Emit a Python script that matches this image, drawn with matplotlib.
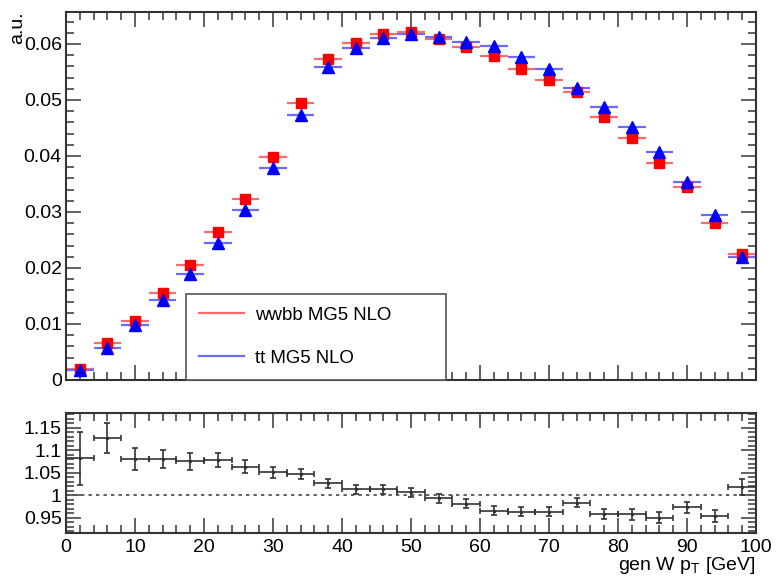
import matplotlib
matplotlib.use("Agg")
import matplotlib.pyplot as plt
from matplotlib.lines import Line2D
from matplotlib.ticker import MultipleLocator, FixedLocator, FuncFormatter

plt.rcParams['font.family'] = ['Liberation Sans', 'DejaVu Sans']
plt.rcParams['mathtext.default'] = 'regular'

# gen W pT bins (4 GeV wide)
bin_centers = [2, 6, 10, 14, 18, 22, 26, 30, 34, 38, 42, 46, 50,
               54, 58, 62, 66, 70, 74, 78, 82, 86, 90, 94, 98]
bin_half_width = 2

# normalised distributions
wwbb = [0.0019, 0.0066, 0.0106, 0.0155, 0.0205, 0.0264, 0.0324, 0.0399,
        0.0495, 0.0574, 0.0602, 0.0617, 0.0622, 0.0609, 0.0595, 0.0579,
        0.0555, 0.0536, 0.0514, 0.0470, 0.0433, 0.0387, 0.0345, 0.0281,
        0.0225]
tt = [0.0018, 0.0058, 0.0098, 0.0143, 0.0190, 0.0244, 0.0304, 0.0378,
      0.0473, 0.0559, 0.0593, 0.0610, 0.0617, 0.0613, 0.0604, 0.0596,
      0.0576, 0.0556, 0.0521, 0.0488, 0.0452, 0.0407, 0.0354, 0.0295,
      0.0220]

# ratio wwbb / tt
ratio = [1.082, 1.128, 1.081, 1.080, 1.076, 1.078, 1.064, 1.051, 1.047,
         1.027, 1.014, 1.013, 1.007, 0.993, 0.981, 0.966, 0.964, 0.964,
         0.983, 0.958, 0.958, 0.950, 0.973, 0.954, 1.019]
ratio_err = [0.058, 0.033, 0.024, 0.020, 0.019, 0.016, 0.015, 0.012, 0.011,
             0.010, 0.010, 0.009, 0.010, 0.009, 0.010, 0.010, 0.010, 0.011,
             0.010, 0.011, 0.012, 0.012, 0.012, 0.013, 0.018]

W, H = 779, 577
fig = plt.figure(figsize=(W / 100, H / 100), dpi=100)

ax = fig.add_axes([66 / W, 1 - 380 / H, 690 / W, 368.5 / H])
axr = fig.add_axes([66 / W, 1 - 533.3 / H, 690 / W, 120.6 / H])

frame_col = '#333333'
tick_col = '#555555'


def root_style(a):
    for s in a.spines.values():
        s.set_color(frame_col)
        s.set_linewidth(1.5)
    a.tick_params(which='both', direction='in', top=True, right=True,
                  colors=tick_col, labelcolor='black', labelsize=14, width=1.3)
    a.tick_params(which='major', length=11)
    a.tick_params(which='minor', length=5.5)
    a.set_xlim(0, 100)
    a.xaxis.set_major_locator(MultipleLocator(10))
    a.xaxis.set_minor_locator(MultipleLocator(2))


# upper panel
root_style(ax)
ax.errorbar(bin_centers, wwbb, xerr=bin_half_width, fmt='none',
            ecolor=(1, 0.42, 0.42), elinewidth=1.6, zorder=2)
ax.errorbar(bin_centers, tt, xerr=bin_half_width, fmt='none',
            ecolor=(0.42, 0.42, 1), elinewidth=1.6, zorder=2)
ax.plot(bin_centers, wwbb, 's', color='red', ms=7.5, mec='red', zorder=3)
ax.plot(bin_centers, tt, '^', color='blue', ms=8, mec='blue', zorder=4)
ax.set_ylim(0, 0.0658)
ax.yaxis.set_major_locator(MultipleLocator(0.01))
ax.yaxis.set_minor_locator(MultipleLocator(0.002))
ax.yaxis.set_major_formatter(FuncFormatter(lambda v, p: '%g' % round(v, 4)))
ax.tick_params(axis='x', labelbottom=False)
ax.tick_params(axis='y', pad=3)

handles = [Line2D([], [], color=(1, 0.42, 0.42), lw=1.6),
           Line2D([], [], color=(0.42, 0.42, 1), lw=1.6)]
leg = ax.legend(handles, ['wwbb MG5 NLO', 'tt MG5 NLO'],
                loc='lower left', bbox_to_anchor=(0.174, 0.0, 0.377, 0.25),
                mode='expand', borderaxespad=0, fancybox=False, shadow=False,
                framealpha=1, edgecolor='#555555', fontsize=13.4,
                handlelength=2.4, handletextpad=0.6, labelspacing=1.4,
                borderpad=0.7)
leg.get_frame().set_linewidth(1.2)

# ratio panel
root_style(axr)
axr.axhline(1, color='#444444', lw=1.2, ls=(0, (2, 2.5)), zorder=1)
axr.errorbar(bin_centers, ratio, xerr=bin_half_width, yerr=ratio_err,
             fmt='o', ms=1.5, color='#333333', ecolor='#333333',
             elinewidth=1.2, capsize=2, capthick=1.2, zorder=3)
axr.set_ylim(0.9156, 1.1836)
axr.yaxis.set_major_locator(FixedLocator([0.95, 1.0, 1.05, 1.1, 1.15]))
axr.yaxis.set_minor_locator(MultipleLocator(0.01))
axr.yaxis.set_major_formatter(FuncFormatter(lambda v, p: '%g' % round(v, 3)))
axr.tick_params(axis='y', pad=3)
axr.tick_params(axis='x', pad=4)

fig.text(18 / W, 1 - 11 / H, 'a.u.', rotation=90, ha='center', va='top',
         fontsize=14)
fig.text(755 / W, 1 - 570 / H, r'gen W p$_{T}$ [GeV]', ha='right',
         va='baseline', fontsize=14)

fig.savefig('out.png', dpi=100)
